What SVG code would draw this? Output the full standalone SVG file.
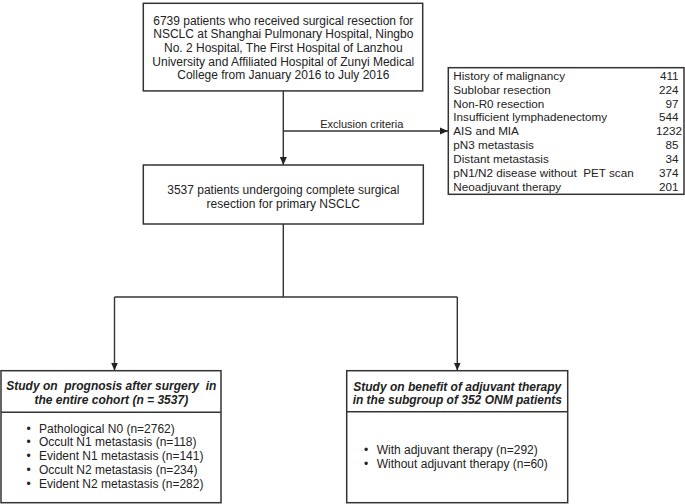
<svg xmlns="http://www.w3.org/2000/svg" width="685" height="504" viewBox="0 0 685 504">
<style>
text{font-family:"Liberation Sans",Arial,sans-serif;fill:#222;}
.t{font-size:12px;}
.c{text-anchor:middle;}
.e{font-size:11.7px;}
.r{text-anchor:end;}
.h{font-size:12px;font-weight:bold;font-style:italic;text-anchor:middle;}
.box{fill:#fff;stroke:#333;stroke-width:1.5;}
.ln{fill:none;stroke:#333;stroke-width:1.4;}
</style>
<defs>
<marker id="ah" markerWidth="8" markerHeight="8" refX="8" refY="4" orient="auto" markerUnits="userSpaceOnUse">
<path d="M0,0.5 L8,4 L0,7.5 Z" fill="#222"/>
</marker>
</defs>
<g id="connectors">
<path class="ln" d="M283.3,91 V165" marker-end="url(#ah)"/>
<path class="ln" d="M283.3,131 H448" marker-end="url(#ah)"/>
<path class="ln" d="M283.3,224 V297"/>
<path class="ln" d="M114.5,297 H457.3"/>
<path class="ln" d="M114.5,297 V370.5" marker-end="url(#ah)"/>
<path class="ln" d="M457.3,297 V370.5" marker-end="url(#ah)"/>
<text class="c" x="361.7" y="128.3" style="font-size:11px">Exclusion criteria</text>
</g>
<g id="source">
<rect class="box" x="143.3" y="3.3" width="279.4" height="87.6"/>
<text class="t c" x="283.3" y="24.8">6739 patients who received surgical resection for</text>
<text class="t c" x="283.3" y="38.4">NSCLC at Shanghai Pulmonary Hospital, Ningbo</text>
<text class="t c" x="283.3" y="52">No. 2 Hospital, The First Hospital of Lanzhou</text>
<text class="t c" x="283.3" y="65.6">University and Affiliated Hospital of Zunyi Medical</text>
<text class="t c" x="283.3" y="79.2">College from January 2016 to July 2016</text>
</g>
<g id="exclusion">
<rect class="box" x="448.3" y="67.7" width="235.7" height="126.6"/>
<text class="e" x="453.3" y="79.8">History of malignancy</text>
<text class="e" x="453.3" y="93.7">Sublobar resection</text>
<text class="e" x="453.3" y="107.6">Non-R0 resection</text>
<text class="e" x="453.3" y="121.4">Insufficient lymphadenectomy</text>
<text class="e" x="453.3" y="135.3">AIS and MIA</text>
<text class="e" x="453.3" y="149.2">pN3 metastasis</text>
<text class="e" x="453.3" y="163.1">Distant metastasis</text>
<text class="e" x="453.3" y="176.9" xml:space="preserve">pN1/N2 disease without  PET scan</text>
<text class="e" x="453.3" y="190.8">Neoadjuvant therapy</text>
<text class="e r" x="678.6" y="79.8">411</text>
<text class="e r" x="678.6" y="93.7">224</text>
<text class="e r" x="678.6" y="107.6">97</text>
<text class="e r" x="678.6" y="121.4">544</text>
<text class="e r" x="682" y="135.3">1232</text>
<text class="e r" x="678.6" y="149.2">85</text>
<text class="e r" x="678.6" y="163.1">34</text>
<text class="e r" x="678.6" y="176.9">374</text>
<text class="e r" x="678.6" y="190.8">201</text>
</g>
<g id="complete">
<rect class="box" x="143.3" y="165" width="280" height="59"/>
<text class="t c" x="283.3" y="193.5">3537 patients undergoing complete surgical</text>
<text class="t c" x="283.3" y="207.5">resection for primary NSCLC</text>
</g>
<g id="prognosis">
<rect class="box" x="1" y="370.7" width="220" height="132"/>
<line class="ln" x1="1" y1="412.3" x2="221" y2="412.3" style="stroke-width:1.5"/>
<text class="h" x="111.3" y="390.2" xml:space="preserve">Study on  prognosis after surgery  in</text>
<text class="h" x="111.3" y="404.2">the entire cohort (n = 3537)</text>
<text class="t"><tspan x="26.5" y="432.5">•</tspan><tspan x="39" y="432.5">Pathological N0 (n=2762)</tspan></text>
<text class="t"><tspan x="26.5" y="446.3">•</tspan><tspan x="39" y="446.3">Occult N1 metastasis (n=118)</tspan></text>
<text class="t"><tspan x="26.5" y="460.1">•</tspan><tspan x="39" y="460.1">Evident N1 metastasis (n=141)</tspan></text>
<text class="t"><tspan x="26.5" y="473.9">•</tspan><tspan x="39" y="473.9">Occult N2 metastasis (n=234)</tspan></text>
<text class="t"><tspan x="26.5" y="487.7">•</tspan><tspan x="39" y="487.7">Evident N2 metastasis (n=282)</tspan></text>
</g>
<g id="adjuvant">
<rect class="box" x="346.7" y="370.7" width="221" height="132"/>
<line class="ln" x1="346.7" y1="411.7" x2="567.7" y2="411.7" style="stroke-width:1.5"/>
<text class="h" x="457.3" y="390.7">Study on benefit of adjuvant therapy</text>
<text class="h" x="457.3" y="404.2">in the subgroup of 352 ONM patients</text>
<text class="t"><tspan x="364" y="454.2">•</tspan><tspan x="376.7" y="454.2">With adjuvant therapy (n=292)</tspan></text>
<text class="t"><tspan x="364" y="468.2">•</tspan><tspan x="376.7" y="468.2">Without adjuvant therapy (n=60)</tspan></text>
</g>
</svg>
